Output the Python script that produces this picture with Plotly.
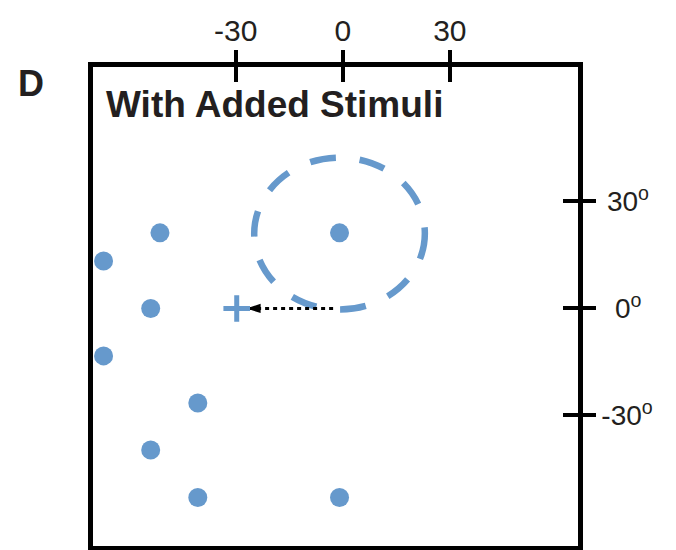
import plotly.graph_objects as go

# ---- data (degrees of visual angle) ----
stim_x = [-51.2, -67.0, -53.8, -67.0, -40.6, -53.8, -40.6, -0.9, -0.9]
stim_y = [21.2, 13.3, 0.0, -13.3, -26.5, -39.7, -53.0, -53.0, 21.2]
fixation = [-29.7, 0.0]                 # "+" marker
arrow_start = [-2.7, 0.0]
arrow_end = [-26.2, 0.0]
arrow_tip = [-27.0, 0.0]
rf_center = [-0.9, 21.0]
rf_radius = [23.9, 21.3]               # x, y half-widths of dashed field
x_ticks = [-30, 0, 30]
x_ticklabels = ["-30", "0", "30"]
y_ticks = [30, 0, -30]
y_ticklabels = ["\u200930<sup>o</sup>", "\u2009\u2009\u200a0<sup>o</sup>", "-30<sup>o</sup>"]
x_range = [-69.96, 65.9]
y_range = [-66.6, 67.7]

BLUE = "#6699cc"
INK = "#231f20"
FONT = "Liberation Sans, Arial, sans-serif"

fig = go.Figure()

fig.add_trace(go.Scatter(
    x=[arrow_start[0], arrow_end[0]], y=[arrow_start[1], arrow_end[1]],
    mode="lines", line=dict(color="black", width=3, dash="4px,4px"),
    hoverinfo="skip", showlegend=False))
fig.add_trace(go.Scatter(
    x=[arrow_tip[0]], y=[arrow_tip[1]], mode="markers",
    marker=dict(symbol="arrow", angle=-90, size=15, color="black"),
    hoverinfo="skip", showlegend=False))
fig.add_trace(go.Scatter(
    x=stim_x, y=stim_y, mode="markers",
    marker=dict(size=19, color=BLUE), showlegend=False))
fig.add_trace(go.Scatter(
    x=[fixation[0]], y=[fixation[1]], mode="markers",
    marker=dict(symbol="cross-thin", size=19, line=dict(color=BLUE, width=5)),
    showlegend=False))
# invisible trace for the overlay axes (inner half of crossing ticks)
fig.add_trace(go.Scatter(x=[0], y=[0], xaxis="x2", yaxis="y2", mode="markers",
                         marker=dict(opacity=0), hoverinfo="skip", showlegend=False))

fig.add_shape(type="circle", xref="x", yref="y",
              x0=rf_center[0] - rf_radius[0], x1=rf_center[0] + rf_radius[0],
              y0=rf_center[1] - rf_radius[1], y1=rf_center[1] + rf_radius[1],
              line=dict(color=BLUE, width=6.5, dash="26px,24px"), layer="below")

fig.update_layout(
    width=676, height=550,
    margin=dict(l=92.75, r=98.25, t=66.75, b=4.25, autoexpand=False),
    plot_bgcolor="white", paper_bgcolor="white",
    font=dict(family=FONT, color=INK),
    xaxis=dict(range=x_range, side="top", tickvals=x_ticks, ticktext=x_ticklabels,
               ticks="outside", ticklen=12, tickwidth=4, tickcolor="black",
               showline=True, linewidth=4.5, linecolor="black", mirror=True,
               showgrid=False, zeroline=False, tickfont=dict(size=30, color=INK),
               ticklabelstandoff=-3, fixedrange=True, automargin=False),
    yaxis=dict(range=y_range, side="right", tickvals=y_ticks, ticktext=y_ticklabels,
               ticks="outside", ticklen=13, tickwidth=4, tickcolor="black",
               showline=True, linewidth=4.5, linecolor="black", mirror=True,
               showgrid=False, zeroline=False, tickfont=dict(size=28, color=INK),
               fixedrange=True, automargin=False),
    xaxis2=dict(range=x_range, overlaying="x", side="top", tickvals=x_ticks,
                ticks="inside", ticklen=15, tickwidth=4, tickcolor="black",
                showticklabels=False, showline=False, showgrid=False, zeroline=False,
                automargin=False),
    yaxis2=dict(range=y_range, overlaying="y", side="right", tickvals=y_ticks,
                ticks="inside", ticklen=15, tickwidth=4, tickcolor="black",
                showticklabels=False, showline=False, showgrid=False, zeroline=False,
                automargin=False),
    annotations=[
        dict(text="<b>With Added Stimuli</b>", xref="paper", yref="paper",
             x=0.0233, y=0.9222, xanchor="left", yanchor="middle", showarrow=False,
             font=dict(size=37, color=INK, family=FONT)),
        dict(text="<b>D</b>", xref="paper", yref="paper",
             x=-0.158, y=0.965, xanchor="left", yanchor="middle", showarrow=False,
             font=dict(size=36, color=INK, family=FONT)),
    ],
)

fig.write_html("out.html")
